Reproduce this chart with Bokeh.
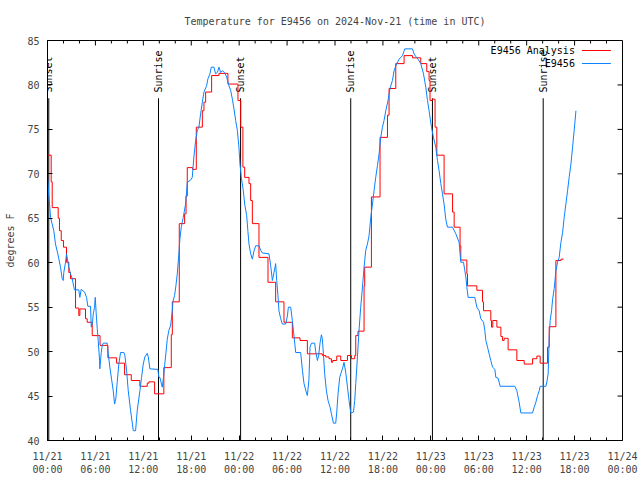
import math
from bokeh.plotting import figure
from bokeh.models import FixedTicker, Range1d
from bokeh.core.properties import value
from bokeh.embed import file_html
from bokeh.resources import INLINE

title_text = "Temperature for E9456 on 2024-Nov-21 (time in UTC)"
y_label = "degrees F"
x_tick_hours = [0, 6, 12, 18, 24, 30, 36, 42, 48, 54, 60, 66, 72]
x_tick_labels = ["11/21\n00:00", "11/21\n06:00", "11/21\n12:00", "11/21\n18:00",
                 "11/22\n00:00", "11/22\n06:00", "11/22\n12:00", "11/22\n18:00",
                 "11/23\n00:00", "11/23\n06:00", "11/23\n12:00", "11/23\n18:00",
                 "11/24\n00:00"]
x_minor_hours = [h for h in range(0, 73, 2) if h % 6 != 0]
y_ticks = [40, 45, 50, 55, 60, 65, 70, 75, 80, 85]

series_names = ["E9456 Analysis", "E9456"]

# analysis (hours since 11/21 00:00 UTC, deg F), drawn as steps
analysis_hours = [0.0, 0.46, 0.59, 1.34, 1.5, 1.72, 2.0, 2.38, 2.67, 2.88, 3.51, 3.92, 4.05,
                  4.76, 4.97, 5.6, 6.58, 7.56, 8.65, 9.65, 10.49, 11.57, 12.49, 12.69, 13.41,
                  14.57, 15.5, 15.63, 16.5, 17.17, 17.35, 17.5, 18.17, 18.63, 19.39, 19.59,
                  19.8, 20.55, 21.47, 22.59, 23.85, 24.19, 24.47, 24.69, 25.23, 25.44, 25.65,
                  26.48, 27.61, 28.57, 29.61, 30.66, 31.62, 32.54, 34.42, 34.84, 35.25, 35.55,
                  35.71, 36.22, 36.72, 37.56, 38.06, 38.47, 38.6, 38.88, 39.64, 39.72, 40.56,
                  41.64, 42.57, 42.77, 43.61, 44.65, 45.7, 46.74, 47.49, 47.78, 47.9, 48.2,
                  48.53, 48.75, 49.66, 50.72, 50.92, 51.66, 51.75, 52.51, 52.59, 53.76, 54.47,
                  54.6, 55.51, 55.6, 55.76, 56.27, 56.77, 56.98, 57.18, 57.68, 58.77, 59.69,
                  60.74, 61.28, 61.69, 62.62, 62.82, 63.66, 64.29, 64.62]
analysis_temps = [72.1, 69.1, 66.2, 65.0, 63.6, 62.5, 61.75, 60.06, 58.9, 58.2, 54.9, 54.06, 54.8,
                  53.7, 53.3, 51.8, 50.7, 49.3, 48.7, 47.4, 46.75, 46.1, 46.45, 46.6, 45.25,
                  48.2, 51.9, 55.6, 64.4, 65.5, 67.5, 70.7, 70.5, 75.25, 77.1, 78.06,
                  79.2, 81.06, 81.3, 80.1, 78.25, 75.25, 70.75, 69.6, 68.9, 67.0, 64.4,
                  60.6, 57.8, 55.6, 53.3, 51.55, 51.25, 49.75, 49.56, 49.4, 49.2, 48.8,
                  49.0, 49.5, 49.0, 49.56, 49.2, 49.56, 51.8, 52.3, 57.4, 59.5, 67.4,
                  74.1, 76.6, 79.6, 82.4, 83.3, 83.05, 82.4, 81.5, 80.5, 78.25, 78.4,
                  75.25, 72.1, 67.75, 65.7, 64.0, 61.9, 60.3, 58.75, 57.4, 56.9, 55.6,
                  54.6, 53.5, 52.75, 53.5, 52.75, 51.7, 51.25, 51.5, 50.2, 49.0, 48.6,
                  49.2, 49.5, 48.7, 50.5, 52.8, 60.25, 60.4, 60.4]

# station observations
obs_hours = [0.0, 0.16, 0.29, 0.38, 0.79, 1.0, 1.29, 1.63, 1.84, 1.97, 2.04, 2.26, 2.38, 2.67,
             2.88, 3.1, 3.3, 3.38, 3.92, 4.05, 4.22, 4.64, 4.89, 5.05, 5.39, 5.48, 5.64, 5.73,
             5.89, 5.98, 6.1, 6.23, 6.35, 6.52, 6.55, 6.73, 6.85, 6.98, 7.48, 7.61, 7.81, 8.02,
             8.23, 8.4, 8.56, 8.73, 8.93, 9.15, 9.56, 9.69, 9.9, 10.11, 10.4, 10.74, 11.03,
             11.24, 11.57, 11.78, 11.99, 12.19, 12.49, 12.62, 12.82, 13.82, 13.95, 14.07,
             14.37, 14.54, 14.66, 14.82, 15.0, 15.2, 15.41, 15.63, 15.7, 15.91, 16.08, 16.25,
             16.45, 16.58, 16.75, 17.0, 17.29, 17.51, 17.92, 18.13, 18.33, 18.55, 18.76,
             18.96, 19.17, 19.39, 19.59, 19.92, 20.09, 20.34, 20.51, 20.84, 21.05, 21.27,
             21.47, 21.68, 21.89, 22.18, 22.43, 22.72, 22.93, 23.15, 23.35, 23.56, 23.77,
             23.97, 24.1, 24.27, 24.52, 24.69, 24.94, 25.1, 25.23, 25.44, 25.65, 25.85,
             26.07, 26.48, 26.69, 26.9, 27.73, 27.94, 28.16, 28.36, 28.57, 28.7, 28.86,
             28.98, 29.2, 29.41, 29.82, 30.04, 30.16, 30.45, 30.66, 30.79, 31.08, 31.7,
             31.92, 32.12, 32.46, 32.54, 32.74, 32.87, 33.05, 33.46, 33.58, 33.8, 33.96,
             34.13, 34.3, 34.42, 34.55, 34.71, 34.92, 35.13, 35.38, 35.55, 35.8, 36.09,
             36.22, 36.38, 36.59, 36.72, 36.93, 37.13, 37.34, 37.56, 37.76, 37.97, 38.31,
             38.47, 38.6, 38.81, 39.01, 39.22, 39.44, 39.64, 39.85, 40.06, 40.26, 40.48,
             40.69, 40.89, 41.1, 41.31, 41.52, 41.73, 41.94, 42.14, 42.36, 42.64, 42.89,
             43.19, 43.4, 43.73, 44.02, 44.45, 44.74, 45.7, 45.9, 46.12, 46.4, 46.74, 47.08,
             47.37, 47.58, 47.78, 48.08, 48.33, 48.62, 48.83, 49.03, 49.25, 49.46, 49.66,
             49.87, 50.08, 50.71, 51.13, 51.54, 51.75, 52.09, 52.26, 52.38, 52.51, 52.67,
             53.51, 53.76, 54.05, 54.26, 54.6, 54.76, 54.89, 55.1, 55.3, 55.51, 55.73, 56.02,
             56.14, 56.43, 56.68, 58.52, 58.77, 59.06, 59.27, 60.74, 60.94, 61.15, 61.37,
             61.57, 61.69, 62.41, 62.53, 62.69, 62.82, 62.94, 63.12, 63.25, 63.45, 63.66,
             63.87, 64.07, 64.29, 64.5, 64.7, 64.91, 65.12, 65.32, 65.54, 65.75, 65.95, 66.17]
obs_temps = [69.6, 67.6, 66.2, 65.1, 63.6, 62.1, 61.0, 59.5, 58.2, 58.0, 58.9, 60.06, 61.0, 59.5,
             58.75, 58.2, 57.25, 56.95, 56.95, 56.1, 57.0, 56.7, 56.1, 55.1, 55.1, 52.75, 53.3, 54.25,
             55.0, 56.1, 54.25, 52.6, 51.25, 49.0, 48.06, 49.9, 50.7, 50.95, 50.95, 49.75, 48.25, 46.9,
             45.6, 44.1, 44.75, 46.6, 48.6, 49.9, 49.9, 49.56, 47.9, 45.6, 43.4, 41.1, 41.1,
             43.4, 45.6, 47.1, 48.6, 49.4, 49.8, 49.4, 48.06, 48.0, 47.1, 47.1,
             46.0, 47.2, 48.4, 49.75, 51.4, 52.4, 52.9, 54.6, 55.6, 56.3, 57.4, 58.75,
             61.0, 62.7, 64.0, 65.1, 66.6, 69.06, 69.3, 69.6, 71.9, 73.75, 74.9,
             75.25, 76.75, 78.06, 79.2, 79.9, 80.7, 81.25, 82.0, 82.0, 81.25, 81.4,
             82.0, 81.4, 81.6, 81.4, 80.9, 79.9, 79.4, 78.4, 77.3, 76.0, 74.9,
             73.0, 71.1, 69.6, 68.1, 66.6, 65.3, 63.5, 62.1, 61.0, 60.4, 61.3,
             61.9, 61.9, 61.4, 61.1, 61.0, 59.7, 58.0, 58.9, 59.9, 58.0, 56.3,
             54.6, 53.7, 53.1, 53.1, 54.0, 55.0, 55.0, 53.5, 52.4, 49.9, 49.9,
             47.9, 46.4, 45.25, 45.06, 46.9, 50.5, 50.95, 50.95, 50.0, 49.0, 49.6,
             51.0, 51.9, 51.4, 49.75, 47.5, 45.6, 44.5, 43.75, 43.0, 41.95, 41.95,
             43.2, 45.25, 47.1, 47.5, 48.06, 48.8, 47.7, 46.0, 44.5, 43.1, 43.2,
             44.5, 46.4, 49.4, 52.4, 55.0, 57.25, 59.5, 61.4, 62.1, 63.0, 65.1,
             66.6, 68.1, 69.6, 70.9, 72.25, 74.1, 75.25, 76.0, 77.1, 78.25, 79.6,
             80.5, 81.6, 82.4, 82.9, 83.3, 84.06, 84.06, 83.5, 83.2, 82.9, 82.4, 81.25,
             79.75, 78.25, 77.1, 75.25, 74.1, 73.0, 71.5, 70.4, 68.9, 67.75, 66.6,
             64.9, 64.0, 64.0, 63.25, 62.3, 60.06, 60.06, 59.1, 58.4, 57.25, 56.1,
             56.1, 55.0, 54.6, 53.7, 53.3, 52.4, 51.25, 50.5, 49.75, 49.0, 48.25, 48.0,
             47.1, 47.0, 46.1, 46.1, 45.6, 44.3, 43.1, 43.1, 43.75, 44.3, 45.06,
             45.6, 46.1, 46.1, 46.6, 47.5, 51.6, 53.5, 54.6, 55.9, 57.1, 59.1,
             60.06, 60.6, 62.3, 63.4, 65.1, 66.6, 68.1, 69.6, 71.1, 73.0, 74.9, 77.1]

sun_hours = [0.16, 13.9, 24.18, 37.97, 48.2, 62.07]
sun_labels = ["Sunset", "Sunrise", "Sunset", "Sunrise", "Sunset", "Sunrise"]

FONT = "DejaVu Sans Mono"
FS = "10px"
RED = "#ff0000"
BLUE = "#0a82ff"

X0, X1 = x_tick_hours[0], x_tick_hours[-1]
Y0, Y1 = y_ticks[0], y_ticks[-1]

p = figure(width=640, height=480, output_backend="svg", toolbar_location=None,
           x_range=Range1d(X0, X1), y_range=Range1d(Y0, Y1),
           min_border_left=47, min_border_right=18, min_border_top=40, min_border_bottom=40)
p.title.text = title_text
p.title.align = "center"
p.title.vertical_align = "top"
p.title.standoff = 24
p.title.text_font = FONT
p.title.text_font_size = FS
p.title.text_font_style = "normal"
p.grid.visible = False
p.outline_line_color = "black"
p.outline_line_width = 1
p.background_fill_color = "white"
p.border_fill_color = "white"

for ax in p.xaxis:
    ax.ticker = FixedTicker(ticks=x_tick_hours, minor_ticks=x_minor_hours)
    ax.major_label_overrides = dict(zip(x_tick_hours, x_tick_labels))
    ax.major_label_standoff = 10
for ax in p.yaxis:
    ax.ticker = FixedTicker(ticks=y_ticks, minor_ticks=[])
    ax.axis_label = y_label
    ax.axis_label_text_font = FONT
    ax.axis_label_text_font_size = FS
    ax.axis_label_text_font_style = "normal"
    ax.axis_label_standoff = 8
    ax.major_label_standoff = 8

for ax in list(p.xaxis) + list(p.yaxis):
    ax.major_tick_in = 5
    ax.major_tick_out = 0
    ax.minor_tick_in = 3
    ax.minor_tick_out = 0
    ax.major_label_text_font = FONT
    ax.major_label_text_font_size = FS
    ax.axis_line_color = "black"

# mirrored ticks on top and right (gnuplot style), from the tick arrays
major_len_y = 5 * (Y1 - Y0) / 400.0
minor_len_y = 3 * (Y1 - Y0) / 400.0
major_len_x = 5 * (X1 - X0) / 575.0
p.segment(x0=x_tick_hours, y0=[Y1] * len(x_tick_hours), x1=x_tick_hours,
          y1=[Y1 - major_len_y] * len(x_tick_hours), line_color="black", line_width=1)
p.segment(x0=x_minor_hours, y0=[Y1] * len(x_minor_hours), x1=x_minor_hours,
          y1=[Y1 - minor_len_y] * len(x_minor_hours), line_color="black", line_width=1)
p.segment(x0=[X1] * len(y_ticks), y0=y_ticks, x1=[X1 - major_len_x] * len(y_ticks),
          y1=y_ticks, line_color="black", line_width=1)

# sunrise / sunset markers
sun_line_top = 78.5
p.segment(x0=sun_hours, y0=[sun_line_top] * len(sun_hours), x1=sun_hours,
          y1=[Y0] * len(sun_hours), line_color="black", line_width=1)
p.text(x=sun_hours, y=[79.15] * len(sun_hours), text=sun_labels, angle=math.pi / 2,
       text_align="left", text_baseline="middle", text_font=value(FONT),
       text_font_size=FS, text_color="black")

# data
p.step(analysis_hours, analysis_temps, mode="after", line_color=RED, line_width=1)
p.line(obs_hours, obs_temps, line_color=BLUE, line_width=1)

# legend (gnuplot style: label right-aligned, sample line to its right)
leg_text_x = 66.04
leg_line_x0, leg_line_x1 = 66.92, 70.55
leg_y = [83.875, 82.41]
p.text(x=[leg_text_x] * 2, y=leg_y, text=series_names, text_align="right",
       text_baseline="middle", text_font=value(FONT), text_font_size=FS, text_color="black")
p.segment(x0=[leg_line_x0] * 2, y0=leg_y, x1=[leg_line_x1] * 2, y1=leg_y,
          line_color=[RED, BLUE], line_width=1)

open("out.html", "w").write(file_html(p, INLINE))
